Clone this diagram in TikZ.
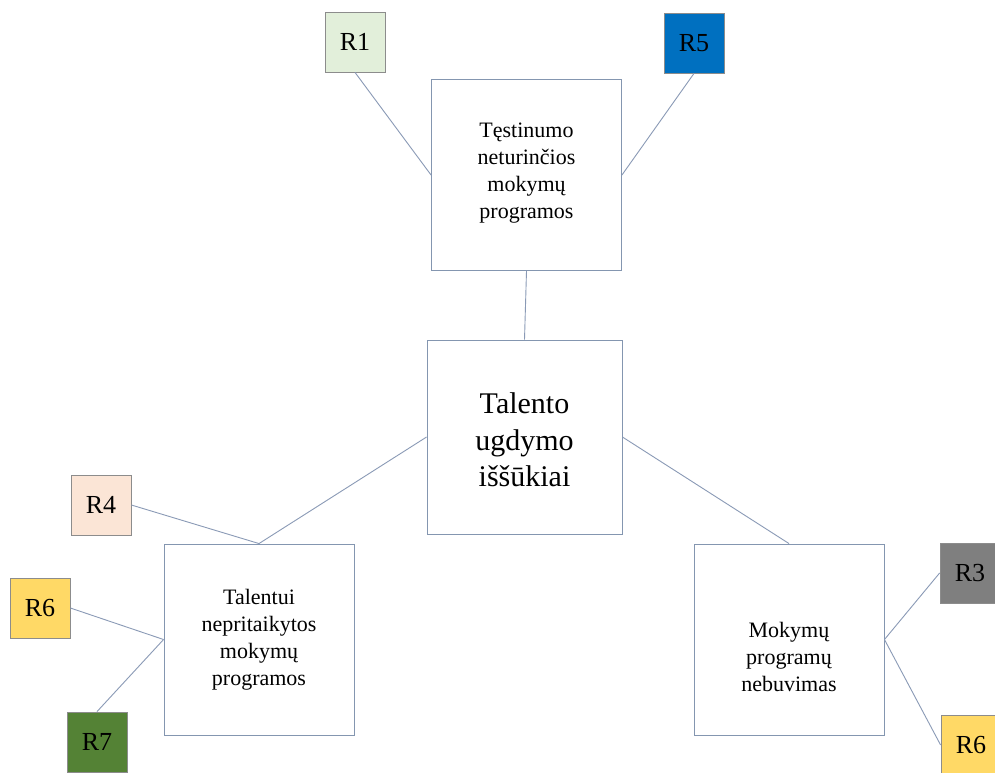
\documentclass[tikz,border=0pt]{standalone}
\usepackage{fontspec}
\setmainfont{Liberation Serif}
\definecolor{edgeblue}{HTML}{8496B0}
\definecolor{linkgray}{HTML}{8A9AB6}
\definecolor{tagborder}{HTML}{8C8C8C}
\definecolor{cgreenlight}{HTML}{E2EFDA}
\definecolor{cblue}{HTML}{0070C0}
\definecolor{cpeach}{HTML}{FBE5D6}
\definecolor{cgold}{HTML}{FFD966}
\definecolor{cgreendark}{HTML}{548235}
\definecolor{cgray}{HTML}{7F7F7F}
\tikzset{
  topic/.style={draw=edgeblue, line width=0.9pt, fill=white, minimum width=190pt, minimum height=191pt,
    align=center, font=\fontsize{22}{27}\selectfont, inner sep=0pt},
  hub/.style={topic, minimum width=195pt, minimum height=194pt, font=\fontsize{30}{36.5}\selectfont},
  tag/.style={draw=tagborder, line width=0.8pt, minimum width=60pt, minimum height=60pt,
    inner sep=0pt, font=\fontsize{26}{28}\selectfont},
  link/.style={draw=linkgray, line width=0.9pt}
}
\begin{document}
\begin{tikzpicture}[x=1pt,y=-1pt]
\useasboundingbox (0,0) rectangle (995,772);
\fill[white] (0,0) rectangle (995,772);

% main boxes
\node[hub]   (hub)   at (524.5,437)  {\rule{0pt}{27pt}Talento\\ugdymo\\iššūkiai};
\node[topic] (top)   at (526.5,175)  {Tęstinumo\\neturinčios\\mokymų\\programos\rule[-8pt]{0pt}{8pt}};
\node[topic] (left)  at (259,639.5)  {Talentui\\nepritaikytos\\mokymų\\programos};
\node[topic] (right) at (789,639.5)  {\rule{0pt}{51pt}Mokymų\\programų\\nebuvimas};

% labels
\node[tag, fill=cgreenlight] (r1)  at (355,42)  {R1};
\node[tag, fill=cblue]       (r5)  at (694,43)  {R5};
\node[tag, fill=cpeach]      (r4)  at (101,505) {R4};
\node[tag, fill=cgold]       (r6a) at (40,608)  {R6};
\node[tag, fill=cgreendark]  (r7)  at (97,742)  {R7};
\node[tag, fill=cgray]       (r3)  at (970,573) {R3};
\node[tag, fill=cgold]       (r6b) at (971,745) {R6};

% connectors
\draw[link] (top.south) -- (hub.north);
\draw[link] (hub.west) -- (left.north);
\draw[link] (hub.east) -- (right.north);
\draw[link] (r1.south) -- (top.west);
\draw[link] (r5.south) -- (top.east);
\draw[link] (r4.east) -- (left.north);
\draw[link] (r6a.east) -- (left.west);
\draw[link] (r7.north) -- (left.west);
\draw[link] (r3.west) -- (right.east);
\draw[link] (r6b.west) -- (right.east);
\end{tikzpicture}
\end{document}
